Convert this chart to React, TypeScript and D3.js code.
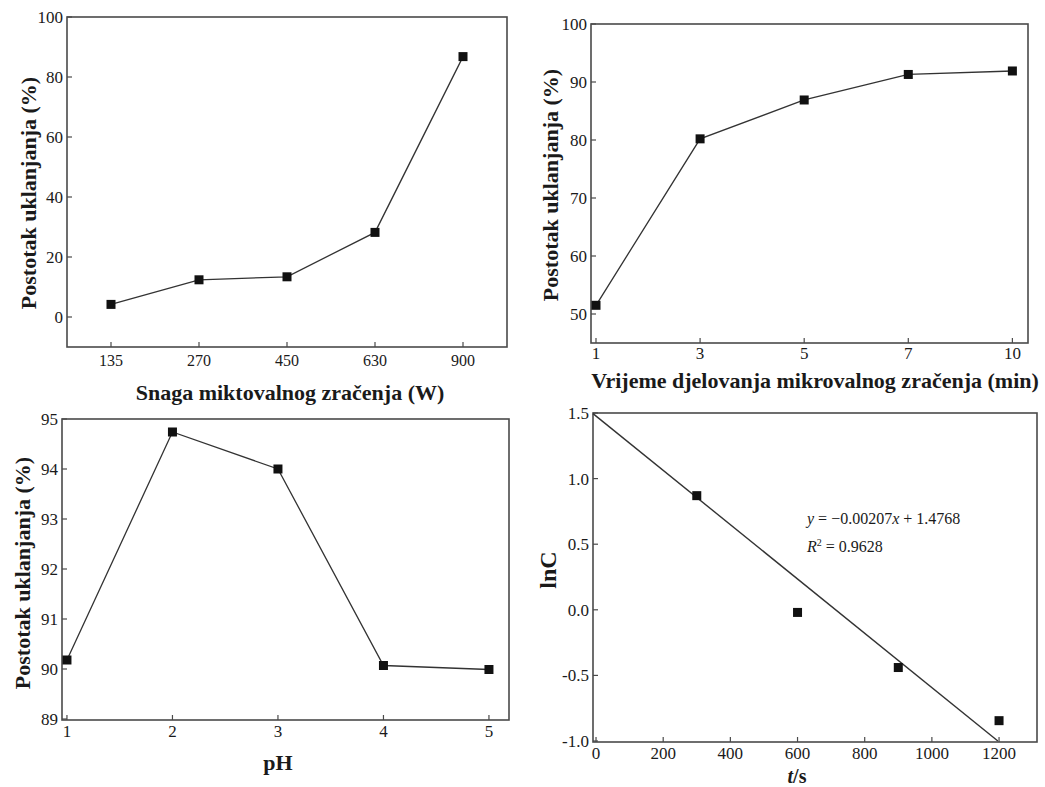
import React from "react";
import * as d3 from "d3";

// Panel 1: microwave power
const powerCats = ["135", "270", "450", "630", "900"];
const powerVals = [4.2, 12.4, 13.4, 28.2, 86.8];
const powerYTicks = [0, 20, 40, 60, 80, 100];

// Panel 2: irradiation time
const timeCats = ["1", "3", "5", "7", "10"];
const timeVals = [51.5, 80.2, 86.9, 91.3, 91.9];
const timeYTicks = [50, 60, 70, 80, 90, 100];

// Panel 3: pH
const phVals = [1, 2, 3, 4, 5];
const phRemoval = [90.18, 94.74, 94.0, 90.07, 89.99];
const phYTicks = [89, 90, 91, 92, 93, 94, 95];

// Panel 4: kinetics
const tVals = [300, 600, 900, 1200];
const lnCVals = [0.87, -0.02, -0.44, -0.845];
const tTicks = [0, 200, 400, 600, 800, 1000, 1200];
const lnCTicks = [-1.0, -0.5, 0.0, 0.5, 1.0, 1.5];
const fitSlope = -0.00207;
const fitIntercept = 1.4768;

const FONT = "Liberation Serif";
const AX = "#4a4a4a";
const INK = "#1a1a1a";
const TICK = 5;
const M = 9;

const titleStyle: React.CSSProperties = { fontFamily: FONT, fontSize: 22, fontWeight: "bold" };

function Frame({ x0, x1, y0, y1 }: { x0: number; x1: number; y0: number; y1: number }) {
  return <rect x={x0} y={y0} width={x1 - x0} height={y1 - y0} fill="none" stroke={AX} strokeWidth={1.6} />;
}

function YTicks({ ticks, y, x0, fmt, size }: { ticks: number[]; y: (v: number) => number; x0: number; fmt: (v: number) => string; size: number }) {
  return (
    <g>
      {ticks.map((t, i) => (
        <g key={i}>
          <line x1={x0} x2={x0 + TICK} y1={y(t)} y2={y(t)} stroke={AX} strokeWidth={1.2} />
          <text x={x0 - 4} y={y(t)} dy="0.35em" textAnchor="end" style={{ fontFamily: FONT, fontSize: size }} fill={INK}>
            {fmt(t)}
          </text>
        </g>
      ))}
    </g>
  );
}

function XTicks({ items, y1, labelY, size }: { items: { x: number; label: string }[]; y1: number; labelY: number; size: number }) {
  return (
    <g>
      {items.map((it, i) => (
        <g key={i}>
          <line x1={it.x} x2={it.x} y1={y1} y2={y1 - TICK} stroke={AX} strokeWidth={1.2} />
          <text x={it.x} y={labelY} textAnchor="middle" style={{ fontFamily: FONT, fontSize: size }} fill={INK}>
            {it.label}
          </text>
        </g>
      ))}
    </g>
  );
}

function Markers({ pts }: { pts: [number, number][] }) {
  return (
    <g>
      {pts.map(([x, y], i) => (
        <rect key={i} x={x - M / 2} y={y - M / 2} width={M} height={M} fill="#111" />
      ))}
    </g>
  );
}

function YTitle({ x, y, text, size = 22 }: { x: number; y: number; text: string; size?: number }) {
  return (
    <text transform={`translate(${x},${y}) rotate(-90)`} textAnchor="middle" dy="0.35em" style={{ ...titleStyle, fontSize: size }} fill={INK}>
      {text}
    </text>
  );
}

function XTitle({ x, y, size = 22, children }: { x: number; y: number; size?: number; children: React.ReactNode }) {
  return (
    <text x={x} y={y} textAnchor="middle" style={{ ...titleStyle, fontSize: size }} fill={INK}>
      {children}
    </text>
  );
}

export default function App() {
  const line = d3.line<[number, number]>();

  // Panel 1
  const x1 = d3.scalePoint<string>().domain(powerCats).range([67, 507]).padding(0.5);
  const y1 = d3.scaleLinear().domain([-10, 100]).range([347, 17]);
  const p1: [number, number][] = powerCats.map((c, i) => [x1(c)!, y1(powerVals[i])]);

  // Panel 2
  const x2 = d3.scaleLinear().domain([-0.048, 4.15]).range([591, 1028]);
  const y2 = d3.scaleLinear().domain([45, 100]).range([343, 24]);
  const p2: [number, number][] = timeCats.map((_, i) => [x2(i), y2(timeVals[i])]);

  // Panel 3
  const x3 = d3.scaleLinear().domain([0.953, 5.19]).range([62, 509]);
  const y3 = d3.scaleLinear().domain([89, 95]).range([719, 419]);
  const p3: [number, number][] = phVals.map((v, i) => [x3(v), y3(phRemoval[i])]);

  // Panel 4
  const x4 = d3.scaleLinear().domain([-9, 1313]).range([593, 1037]);
  const y4 = d3.scaleLinear().domain([-1, 1.5]).range([741, 413]);
  const p4: [number, number][] = tVals.map((t, i) => [x4(t), y4(lnCVals[i])]);
  const tEnd = (-1 - fitIntercept) / fitSlope;
  const fitPts: [number, number][] = [x4.domain()[0], tEnd].map((t) => [x4(t), y4(fitIntercept + fitSlope * t)]);

  const annot: React.CSSProperties = { fontFamily: FONT, fontSize: 16 };

  return (
    <svg width={1045} height={787} style={{ position: "absolute", left: 0, top: 0, background: "#fff" }}>
      <rect width={1045} height={787} fill="#fff" />

      {/* Panel 1 */}
      <Frame x0={67} x1={507} y0={17} y1={347} />
      <YTicks ticks={powerYTicks} y={y1} x0={67} size={17} fmt={(v) => String(v)} />
      <XTicks items={powerCats.map((c) => ({ x: x1(c)!, label: c }))} y1={347} labelY={366} size={16} />
      <path d={line(p1)!} fill="none" stroke="#333" strokeWidth={1.3} />
      <Markers pts={p1} />
      <YTitle x={28} y={193} text="Postotak uklanjanja (%)" />
      <XTitle x={290} y={400}>Snaga miktovalnog zračenja (W)</XTitle>

      {/* Panel 2 */}
      <Frame x0={591} x1={1028} y0={24} y1={343} />
      <YTicks ticks={timeYTicks} y={y2} x0={591} size={17} fmt={(v) => String(v)} />
      <XTicks items={timeCats.map((c, i) => ({ x: x2(i), label: c }))} y1={343} labelY={359} size={17} />
      <path d={line(p2)!} fill="none" stroke="#333" strokeWidth={1.3} />
      <Markers pts={p2} />
      <YTitle x={550} y={185} text="Postotak uklanjanja (%)" />
      <XTitle x={815} y={388}>Vrijeme djelovanja mikrovalnog zračenja (min)</XTitle>

      {/* Panel 3 */}
      <Frame x0={62} x1={509} y0={419} y1={720} />
      <YTicks ticks={phYTicks} y={y3} x0={62} size={17} fmt={(v) => String(v)} />
      <XTicks items={phVals.map((v) => ({ x: x3(v), label: String(v) }))} y1={720} labelY={737} size={17} />
      <path d={line(p3)!} fill="none" stroke="#333" strokeWidth={1.3} />
      <Markers pts={p3} />
      <YTitle x={22} y={573} text="Postotak uklanjanja (%)" />
      <XTitle x={278} y={770}>pH</XTitle>

      {/* Panel 4 */}
      <Frame x0={593} x1={1037} y0={413} y1={742} />
      <YTicks ticks={lnCTicks} y={y4} x0={593} size={17} fmt={(v) => v.toFixed(1)} />
      <XTicks items={tTicks.map((t) => ({ x: x4(t), label: String(t) }))} y1={742} labelY={759} size={17} />
      <path d={line(fitPts)!} fill="none" stroke="#333" strokeWidth={1.4} />
      <Markers pts={p4} />
      <text x={807} y={524} style={annot} fill={INK}>
        <tspan fontStyle="italic">y</tspan> = −0.00207<tspan fontStyle="italic">x</tspan> + 1.4768
      </text>
      <text x={807} y={552} style={annot} fill={INK}>
        <tspan fontStyle="italic">R</tspan>
        <tspan fontSize={10} dy={-6}>2</tspan>
        <tspan dy={6}> = 0.9628</tspan>
      </text>
      <YTitle x={548} y={570} text="lnC" size={24} />
      <XTitle x={797} y={782.5} size={20}>
        <tspan fontStyle="italic">t</tspan>/s
      </XTitle>
    </svg>
  );
}
